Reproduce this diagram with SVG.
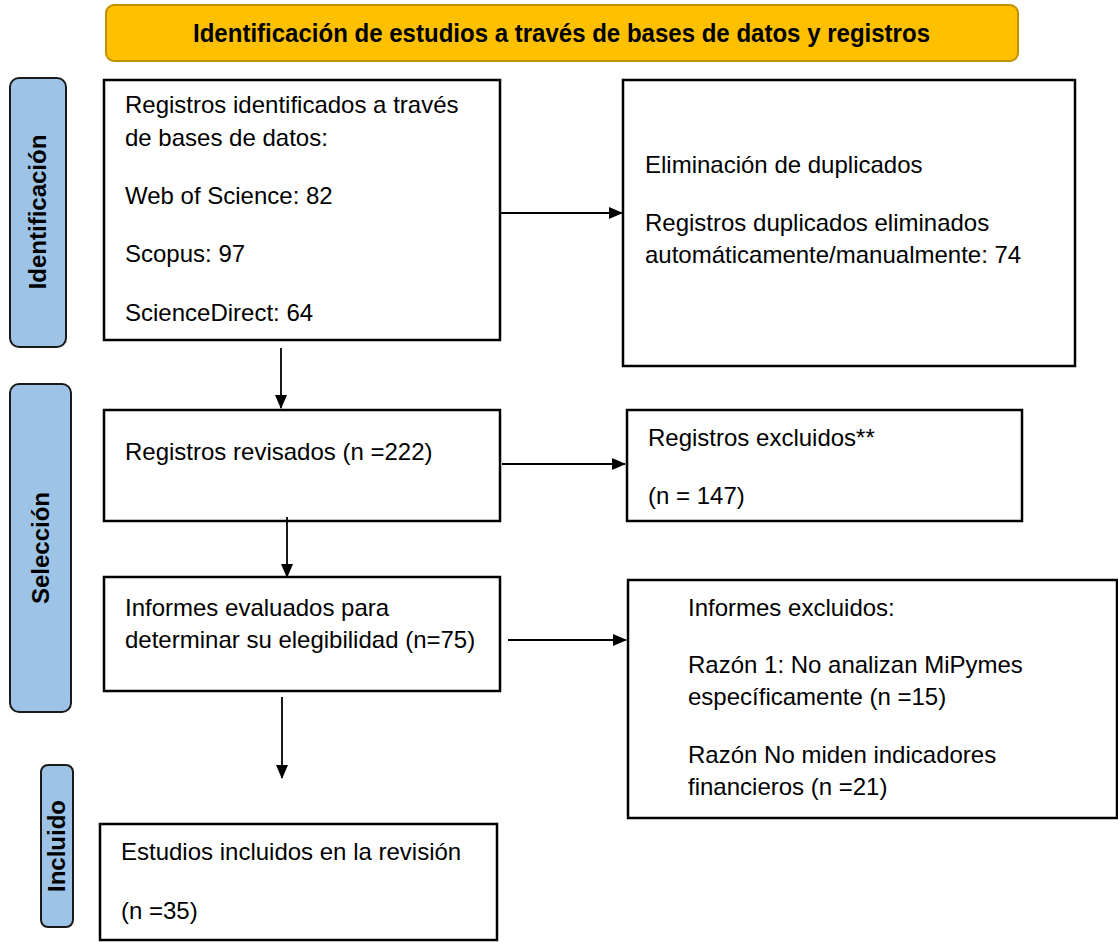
<svg xmlns="http://www.w3.org/2000/svg" width="1118" height="943" viewBox="0 0 1118 943">
<style>
.box{fill:#fff;stroke:#000;stroke-width:2.5}
.lbl{fill:#9DC3E6;stroke:#1a1a1a;stroke-width:2}
.t{font-family:"Liberation Sans",Arial,sans-serif;font-size:24px;fill:#000}
.b{font-family:"Liberation Sans",Arial,sans-serif;font-size:24px;font-weight:bold;fill:#000}
.c{stroke:#000;stroke-width:1.8;fill:none;marker-end:url(#ah)}
</style>
<defs>
<marker id="ah" markerWidth="14" markerHeight="12" refX="13" refY="6" orient="auto" markerUnits="userSpaceOnUse">
<path d="M0,0 L14,6 L0,12 Z" fill="#000"/>
</marker>
</defs>
<rect width="1118" height="943" fill="#fff"/>
<g id="banner">
<rect x="106" y="5" width="912" height="56" rx="8" fill="#FFC000" stroke="#BF9000" stroke-width="2"/>
<text class="b" x="193" y="42" style="font-size:26px" textLength="737" lengthAdjust="spacingAndGlyphs">Identificación de estudios a través de bases de datos y registros</text>
</g>
<g id="lbl-identificacion">
<rect class="lbl" x="10" y="78" width="56" height="269" rx="9"/>
<text class="b" transform="translate(46,212) rotate(-90)" text-anchor="middle">Identificación</text>
</g>
<g id="lbl-seleccion">
<rect class="lbl" x="10" y="384" width="61" height="328" rx="9"/>
<text class="b" transform="translate(49,548) rotate(-90)" text-anchor="middle">Selección</text>
</g>
<g id="lbl-incluido">
<rect class="lbl" x="41" y="765" width="32" height="162" rx="7"/>
<text class="b" transform="translate(65,846) rotate(-90)" text-anchor="middle">Incluido</text>
</g>
<g id="n1">
<rect class="box" x="104" y="80" width="396" height="260"/>
<text class="t" x="125" y="113">Registros identificados a través</text>
<text class="t" x="125" y="146">de bases de datos:</text>
<text class="t" x="125" y="204">Web of Science: 82</text>
<text class="t" x="125" y="262">Scopus: 97</text>
<text class="t" x="125" y="321">ScienceDirect: 64</text>
</g>
<g id="n2">
<rect class="box" x="623" y="80" width="452" height="286"/>
<text class="t" x="645" y="173">Eliminación de duplicados</text>
<text class="t" x="645" y="231">Registros duplicados eliminados</text>
<text class="t" x="645" y="263">automáticamente/manualmente: 74</text>
</g>
<g id="n3">
<rect class="box" x="104" y="410" width="396" height="111"/>
<text class="t" x="125" y="460">Registros revisados (n =222)</text>
</g>
<g id="n4">
<rect class="box" x="627" y="410" width="395" height="111"/>
<text class="t" x="648" y="446">Registros excluidos**</text>
<text class="t" x="648" y="504">(n = 147)</text>
</g>
<g id="n5">
<rect class="box" x="104" y="577" width="396" height="114"/>
<text class="t" x="125" y="616">Informes evaluados para</text>
<text class="t" x="125" y="648">determinar su elegibilidad (n=75)</text>
</g>
<g id="n6">
<rect class="box" x="628" y="580" width="489" height="238"/>
<text class="t" x="688" y="616">Informes excluidos:</text>
<text class="t" x="688" y="673">Razón 1: No analizan MiPymes</text>
<text class="t" x="688" y="705">específicamente (n =15)</text>
<text class="t" x="688" y="763">Razón No miden indicadores</text>
<text class="t" x="688" y="795">financieros (n =21)</text>
</g>
<g id="n7">
<rect class="box" x="100" y="824" width="397" height="116"/>
<text class="t" x="121" y="860">Estudios incluidos en la revisión</text>
<text class="t" x="121" y="919">(n =35)</text>
</g>
<g id="connectors">
<line class="c" x1="501" y1="213" x2="622" y2="213"/>
<line class="c" x1="281" y1="348" x2="281" y2="408"/>
<line class="c" x1="502" y1="464" x2="625" y2="464"/>
<line class="c" x1="287" y1="517" x2="287" y2="577"/>
<line class="c" x1="508" y1="640" x2="626" y2="640"/>
<line class="c" x1="282" y1="697" x2="282" y2="778"/>
</g>
</svg>
